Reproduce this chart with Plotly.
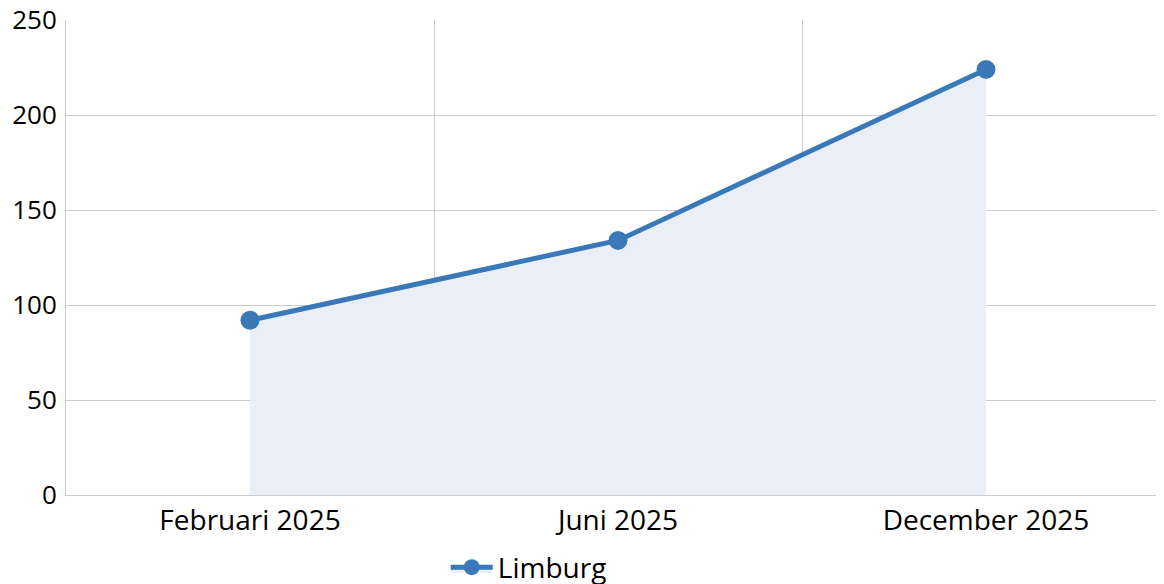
import plotly.graph_objects as go

# Limburg
months = ['Februari 2025', 'Juni 2025', 'December 2025']
limburg = [92, 134, 224]
y_ticks = [0, 50, 100, 150, 200, 250]

fig = go.Figure()
fig.add_trace(go.Scatter(
    x=months, y=limburg, name='Limburg',
    mode='lines+markers', fill='tozeroy',
    fillcolor='#eaeff7',
    line=dict(color='#3a78b8', width=5),
    marker=dict(size=19, color='#3a78b8'),
))

grid = '#c6cdd9'
fig.update_layout(
    width=1164, height=584,
    margin=dict(l=58, r=2, t=12, b=97, autoexpand=False),
    plot_bgcolor='white', paper_bgcolor='white',
    font=dict(family='Open Sans', size=28, color='black'),
    showlegend=True,
    legend=dict(orientation='h', x=0.344, xanchor='left', y=-0.10, yanchor='top',
                itemwidth=42, font=dict(size=28)),
)
fig.update_xaxes(type='category', range=[-0.5, 2.5], tickson='boundaries',
                 showgrid=True, gridcolor=grid, gridwidth=1, automargin=False,
                 showline=True, linecolor=grid, ticks='', ticklen=0)
fig.update_yaxes(range=[0, 250], tickvals=y_ticks, showgrid=True, gridcolor=grid,
                 showline=True, linecolor=grid, zeroline=False, ticks='',
                 ticklabelstandoff=3, ticklabeloverflow='allow', automargin=False,
                 tickfont=dict(size=26))

fig.write_html("out.html")
